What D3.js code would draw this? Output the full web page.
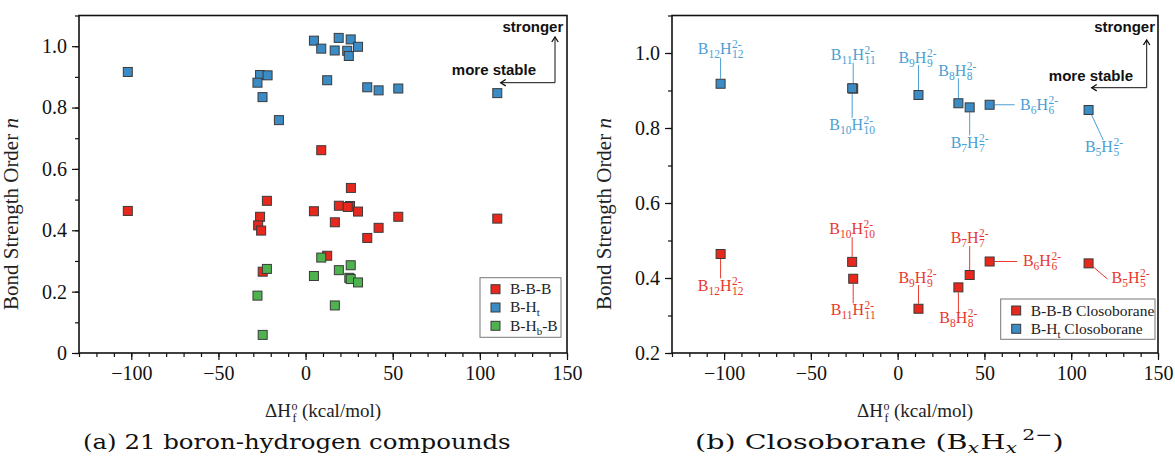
<!DOCTYPE html>
<html>
<head>
<meta charset="utf-8">
<script src="https://cdn.jsdelivr.net/npm/d3@7"></script>
<style>
  body { margin: 0; background: #fff; }
  svg text { font-family: "Liberation Serif", "DejaVu Serif", serif; }
  svg text.note { font-family: "Liberation Sans", Arial, sans-serif; font-weight: bold; font-size: 15px; fill: #111; }
  svg text.cap { font-family: "DejaVu Serif", serif; }
</style>
</head>
<body>
<div id="chart"></div>
<script>
var w = 1175;
var h = 463;

// (a) 21 boron-hydrogen compounds
var bbbHf = [-102, -22.2, -26.1, -27.2, -25.5, -24.6, 9.0, 26.0, 4.8, 19.1, 25.5, 24.2, 30.1, 16.8, 53.2, 41.9, 35.4, 110, 12.4];
var bbbN  = [0.463, 0.496, 0.444, 0.416, 0.399, 0.265, 0.661, 0.538, 0.462, 0.480, 0.479, 0.476, 0.461, 0.426, 0.444, 0.408, 0.375, 0.438, 0.317];
var bhtHf = [-102, -26.1, -21.8, -27.6, -24.7, -15.3, 4.8, 9.0, 19.0, 16.7, 25.9, 23.9, 24.8, 30.1, 12.4, 35.4, 41.9, 53.2, 110];
var bhtN  = [0.916, 0.906, 0.905, 0.881, 0.834, 0.759, 1.018, 0.992, 1.027, 0.986, 1.022, 0.985, 0.968, 0.998, 0.889, 0.866, 0.856, 0.862, 0.847];
var bhbHf = [-22.2, -27.6, -24.6, 9.0, 4.8, 19.1, 25.9, 25.1, 25.9, 30.1, 16.8];
var bhbN  = [0.274, 0.187, 0.059, 0.311, 0.251, 0.270, 0.286, 0.245, 0.241, 0.230, 0.155];

// (b) closoboranes BxHx 2-
var closoX   = ["12", "11", "10", "9", "8", "7", "6", "5"];
var closoHf  = [-102, -25.6, -26.2, 12, 35, 41.5, 53, 110];
var closoBBB = [0.464, 0.398, 0.443, 0.318, 0.375, 0.408, 0.444, 0.439];
var closoBHt = [0.918, 0.905, 0.906, 0.888, 0.866, 0.855, 0.862, 0.848];

var xTicks = [-100, -50, 0, 50, 100, 150];
var yTicksA = [0, 0.2, 0.4, 0.6, 0.8, 1.0];
var yTicksB = [0.2, 0.4, 0.6, 0.8, 1.0];

var red = "#e8281d", blue = "#3b8bc5", green = "#4eb24f";
var redText = "#e8392e", blueText = "#4b9fd3";
var serif = "Liberation Serif";

var svg = d3.select("#chart").append("svg")
    .attr("width", w).attr("height", h)
    .attr("font-family", serif);

svg.append("defs").append("marker")
    .attr("id", "arrow")
    .attr("viewBox", "-6 -4 8 8")
    .attr("markerWidth", 8).attr("markerHeight", 8)
    .attr("markerUnits", "userSpaceOnUse")
    .attr("orient", "auto")
    .append("path")
    .attr("d", "M-5,-3.2 L0,0 L-5,3.2")
    .attr("fill", "none").attr("stroke", "#111").attr("stroke-width", 1.3);

function makePanel(left, right, yDomain, yTicks) {
    var top = 15.5, bottom = 353;
    var x = d3.scaleLinear().domain([-130, 150]).range([left, right]);
    var y = d3.scaleLinear().domain(yDomain).range([bottom, top]);
    var g = svg.append("g");

    // minor ticks
    g.append("g").attr("transform", "translate(0," + bottom + ")")
        .call(d3.axisBottom(x).tickValues(d3.range(-130, 151, 10)).tickSize(4).tickFormat(""))
        .call(a => a.select(".domain").remove());
    g.append("g").attr("transform", "translate(" + left + ",0)")
        .call(d3.axisLeft(y).tickValues(d3.range(yDomain[0], yDomain[1] + 0.001, 0.1)).tickSize(4).tickFormat(""))
        .call(a => a.select(".domain").remove());

    // major ticks + labels
    var xa = g.append("g").attr("transform", "translate(0," + bottom + ")")
        .call(d3.axisBottom(x).tickValues(xTicks).tickSize(7).tickPadding(6));
    var ya = g.append("g").attr("transform", "translate(" + left + ",0)")
        .call(d3.axisLeft(y).tickValues(yTicks).tickSize(7).tickPadding(5)
            .tickFormat(d => d === 0 ? "0" : d3.format(".1f")(d)));
    [xa, ya].forEach(a => {
        a.select(".domain").remove();
        a.attr("font-family", serif).attr("font-size", 20);
        a.selectAll("text").attr("fill", "#111");
    });
    g.selectAll(".tick line").attr("stroke", "#111").attr("stroke-width", 1.2);

    g.append("rect")
        .attr("x", left).attr("y", top)
        .attr("width", right - left).attr("height", bottom - top)
        .attr("fill", "none").attr("stroke", "#111").attr("stroke-width", 1.6);

    // y title
    var yt = g.append("text")
        .attr("transform", "translate(" + (left - 61) + ",214) rotate(-90)")
        .attr("text-anchor", "middle")
        .style("font-size", "21px").attr("fill", "#222");
    yt.append("tspan").text("Bond Strength Order ");
    yt.append("tspan").style("font-style", "italic").text("n");

    // x title: ΔH with stacked o / f
    var xt = g.append("g");
    var t1 = xt.append("text").attr("x", 0).attr("y", 0).style("font-size", "19px").attr("fill", "#222").text("\u0394H");
    var w1 = t1.node().getComputedTextLength();
    xt.append("text").attr("x", w1 + 0.5).attr("y", -7).style("font-size", "12px").attr("fill", "#222").text("o");
    xt.append("text").attr("x", w1 + 1.5).attr("y", 5).style("font-size", "12px").attr("fill", "#222").text("f");
    var t2 = xt.append("text").attr("x", w1 + 11).attr("y", 0).style("font-size", "19px").attr("fill", "#222").text("(kcal/mol)");
    var tw = w1 + 11 + t2.node().getComputedTextLength();
    xt.attr("transform", "translate(" + ((left + right) / 2 - tw / 2) + ",417)");

    return { g: g, x: x, y: y, top: top, bottom: bottom, left: left, right: right };
}

function squares(p, xs, ys, color) {
    p.g.append("g").selectAll("rect")
        .data(xs.map((d, i) => [d, ys[i]]))
        .enter().append("rect")
        .attr("x", d => p.x(d[0]) - 4.5)
        .attr("y", d => p.y(d[1]) - 4.5)
        .attr("width", 9).attr("height", 9)
        .attr("fill", color)
        .attr("stroke", "#3a3a3a").attr("stroke-width", 1);
}

function notes(p, strongerX, arrowX, arrowTop, cornerY, arrowEnd, stableEnd, stableY) {
    p.g.append("text").attr("class", "note")
        .attr("x", p.right - strongerX).attr("y", p.top + 16.5)
        .attr("text-anchor", "end").text("stronger");
    p.g.append("text").attr("class", "note")
        .attr("x", p.right - stableEnd).attr("y", stableY)
        .attr("text-anchor", "end").text("more stable");
    p.g.append("line")
        .attr("x1", p.right - arrowX).attr("y1", cornerY)
        .attr("x2", p.right - arrowX).attr("y2", arrowTop)
        .attr("stroke", "#111").attr("stroke-width", 1)
        .attr("marker-end", "url(#arrow)");
    p.g.append("line")
        .attr("x1", p.right - arrowX).attr("y1", cornerY)
        .attr("x2", p.right - arrowEnd).attr("y2", cornerY)
        .attr("stroke", "#111").attr("stroke-width", 1)
        .attr("marker-end", "url(#arrow)");
}

// text with subscripts; parts are strings or {low: "..."}
function richText(t, parts, subSize, shift) {
    var pending = 0;
    parts.forEach(s => {
        if (typeof s === "string") {
            t.append("tspan").attr("dy", pending || null).text(s);
            pending = 0;
        } else {
            t.append("tspan").attr("dy", shift).style("font-size", subSize).text(s.low);
            pending = -shift;
        }
    });
}

function legend(p, x0, y0, bw, bh, rows) {
    var lg = p.g.append("g").attr("transform", "translate(" + x0 + "," + y0 + ")");
    lg.append("rect").attr("width", bw).attr("height", bh)
        .attr("fill", "#fff").attr("stroke", "#777").attr("stroke-width", 1);
    rows.forEach((r, i) => {
        var cy = 11.5 + i * 18.3;
        lg.append("rect").attr("x", 11).attr("y", cy - 4.5).attr("width", 9).attr("height", 9)
            .attr("fill", r.color).attr("stroke", "#3a3a3a").attr("stroke-width", 1);
        var t = lg.append("text").attr("x", 30).attr("y", cy + 5).style("font-size", "15.5px").attr("fill", "#222");
        richText(t, r.parts, "11px", 4);
    });
}

// stacked closoborane label B_nH_n^{2-}
function formula(p, n, px, py, anchor, dx, dy, color) {
    var fg = p.g.append("g").attr("fill", color);
    var t = fg.append("text").attr("x", 0).attr("y", 0).style("font-size", "16px");
    richText(t, ["B", { low: n }, "H"], "11.5px", 4);
    var tw = t.node().getComputedTextLength();
    var sup = fg.append("text").attr("x", tw + 0.5).attr("y", -6).style("font-size", "11.5px").text("2-");
    var sub = fg.append("text").attr("x", tw + 0.5).attr("y", 4).style("font-size", "11.5px").text(n);
    var total = tw + 0.5 + Math.max(sup.node().getComputedTextLength(), sub.node().getComputedTextLength());
    var sx = anchor === "middle" ? px + dx - total / 2 : px + dx;
    fg.attr("transform", "translate(" + sx + "," + (py + dy) + ")");
}

function leaders(p, ys, layout, textColor) {
    closoX.forEach((n, i) => {
        var L = layout[i];
        var px = p.x(closoHf[i]), py = p.y(ys[i]);
        p.g.append("line")
            .attr("x1", px + L.l[0]).attr("y1", py + L.l[1])
            .attr("x2", px + L.l[2]).attr("y2", py + L.l[3])
            .attr("stroke", textColor).attr("stroke-width", 1);
        formula(p, n, px, py, L.a, L.dx, L.dy, textColor);
    });
}

// ---- panel (a)
var pa = makePanel(79, 567, [0, 1.1], yTicksA);
squares(pa, bbbHf, bbbN, red);
squares(pa, bhtHf, bhtN, blue);
squares(pa, bhbHf, bhbN, green);
notes(pa, 3.7, 12, 37, 82.7, 66.3, 31, 74.5);
legend(pa, 480, 277.7, 81, 59.6, [
    { color: red, parts: ["B-B-B"] },
    { color: blue, parts: ["B-H", { low: "t" }] },
    { color: green, parts: ["B-H", { low: "b" }, "-B"] }
]);

// ---- panel (b)
var pb = makePanel(672, 1158, [0.2, 1.1], yTicksB);

// label placement for each closoborane (order of closoX)
var blueLayout = [
    { a: "middle", dx: 0, dy: -30, l: [0, -5, 0, -26] },
    { a: "middle", dx: 0, dy: -28.7, l: [0, -5, 0, -26] },
    { a: "middle", dx: 0, dy: 41.3, l: [0, 5, 0, 29.6] },
    { a: "middle", dx: -1, dy: -31.7, l: [0, -5, 0, -30] },
    { a: "middle", dx: -1, dy: -27.3, l: [0, -5, 0, -25] },
    { a: "middle", dx: 0, dy: 41, l: [0, 5, 0, 28] },
    { a: "start", dx: 30.4, dy: 5.3, l: [5, 0, 25, 0] },
    { a: "middle", dx: 15.4, dy: 41.7, l: [3, 5, 14.7, 30] }
];
var redLayout = [
    { a: "middle", dx: 0, dy: 36.7, l: [0, 5, 0, 24.3] },
    { a: "middle", dx: 0, dy: 36.3, l: [0, 5, 0, 24.6] },
    { a: "middle", dx: 0, dy: -28, l: [0, -5, 0, -24.7] },
    { a: "middle", dx: -1, dy: -25.4, l: [0, -5, 0, -23.7] },
    { a: "middle", dx: 0, dy: 35.4, l: [0, 5, 0, 26] },
    { a: "middle", dx: 0, dy: -31.7, l: [0, -5, 0, -29] },
    { a: "start", dx: 33.3, dy: 4, l: [5, 0, 27.6, 0] },
    { a: "start", dx: 23, dy: 20, l: [4, 3, 19, 15.7] }
];
leaders(pb, closoBHt, blueLayout, blueText);
leaders(pb, closoBBB, redLayout, redText);
squares(pb, closoHf, closoBHt, blue);
squares(pb, closoHf, closoBBB, red);
notes(pb, 3, 11.3, 40, 87.7, 66.3, 25, 81);
legend(pb, 1000.7, 299, 154.3, 40.3, [
    { color: red, parts: ["B-B-B Closoborane"] },
    { color: blue, parts: ["B-H", { low: "t" }, " Closoborane"] }
]);

// ---- captions (centred under each panel), widened to the reference width
function caption(cx, width, build) {
    var cg = svg.append("g");
    var t = cg.append("text").attr("class", "cap").attr("x", 0).attr("y", 0)
        .style("font-size", "21px").attr("fill", "#111");
    build(t);
    var len = t.node().getComputedTextLength();
    var s = width / len;
    cg.attr("transform", "translate(" + (cx - width / 2) + ",449) scale(" + s + ",1)");
}
caption(297, 428, t => t.text("(a) 21 boron-hydrogen compounds"));
caption(876, 362, t => {
    t.append("tspan").text("(b) Closoborane (B");
    t.append("tspan").attr("dy", 4).style("font-size", "15px").style("font-style", "italic").text("x");
    t.append("tspan").attr("dy", -4).attr("dx", 1).text("H");
    t.append("tspan").attr("dy", 4).style("font-size", "15px").style("font-style", "italic").text("x");
    t.append("tspan").attr("dy", -13).attr("dx", 4).style("font-size", "15px").text("2\u2212");
    t.append("tspan").attr("dy", 9).text(")");
});
</script>
</body>
</html>
